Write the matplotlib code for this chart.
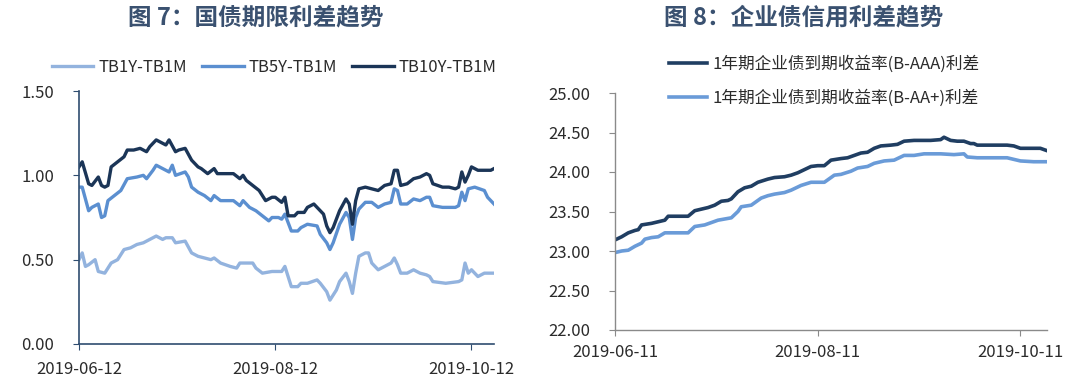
import matplotlib
matplotlib.use("Agg")
import matplotlib.pyplot as plt
import numpy as np
import pandas as pd

plt.rcParams['font.family'] = ['Noto Sans CJK SC', 'DejaVu Sans']

# ---------------- data: left chart (days since 2019-06-12) ----------------
left_start = "2019-06-12"
left_ticks = ["2019-06-12", "2019-08-12", "2019-10-12"]
left_yticks = [0.0, 0.5, 1.0, 1.5]

tb10_days = [0, 1, 3, 4, 6, 7, 8, 9, 10, 12, 14, 15, 17, 19, 21, 22, 24, 25, 27, 28, 30, 31, 33, 35,
             37, 38, 40, 42, 43, 46, 48, 50, 51, 52, 54, 56, 58, 60, 61, 63, 64, 65, 67, 68, 70, 71,
             73, 74, 76, 77, 78, 79, 81, 83, 84, 85, 86, 87, 89, 91, 93, 95, 97, 98, 99, 100, 102,
             104, 106, 108, 109, 110, 113, 115, 117, 118, 119, 120, 121, 122, 124, 126, 128, 129]
tb10_vals = [1.05, 1.08, 0.95, 0.94, 0.99, 0.94, 0.93, 0.94, 1.05, 1.08, 1.11, 1.15, 1.15, 1.16, 1.14,
             1.17, 1.21, 1.20, 1.18, 1.21, 1.14, 1.15, 1.16, 1.09, 1.05, 1.04, 1.01, 1.04, 1.01, 1.01,
             1.01, 0.98, 1.00, 0.97, 0.94, 0.91, 0.85, 0.87, 0.87, 0.84, 0.87, 0.76, 0.76, 0.78, 0.78,
             0.81, 0.83, 0.81, 0.77, 0.70, 0.66, 0.69, 0.79, 0.86, 0.83, 0.71, 0.85, 0.92, 0.93, 0.92,
             0.91, 0.94, 0.95, 1.03, 1.03, 0.94, 0.95, 0.98, 0.99, 1.01, 1.00, 0.95, 0.93, 0.93, 0.92,
             0.93, 1.02, 0.96, 1.00, 1.05, 1.03, 1.03, 1.03, 1.04]

tb5_days = [0, 1, 3, 4, 6, 7, 8, 9, 11, 13, 15, 18, 20, 21, 23, 24, 26, 28, 29, 30, 33, 34, 35, 37,
            39, 41, 42, 44, 48, 50, 51, 53, 55, 57, 59, 60, 62, 63, 64, 66, 68, 69, 71, 74, 75, 77,
            78, 79, 81, 83, 84, 85, 86, 87, 89, 91, 93, 95, 97, 98, 99, 100, 102, 104, 106, 108,
            109, 110, 113, 117, 118, 119, 120, 121, 123, 126, 127, 129]
tb5_vals = [0.93, 0.93, 0.79, 0.81, 0.83, 0.75, 0.76, 0.85, 0.88, 0.91, 0.98, 0.99, 1.00, 0.98, 1.03,
            1.06, 1.04, 1.02, 1.06, 1.00, 1.02, 0.99, 0.93, 0.90, 0.88, 0.85, 0.88, 0.85, 0.85, 0.82,
            0.85, 0.81, 0.79, 0.76, 0.73, 0.75, 0.75, 0.74, 0.77, 0.67, 0.67, 0.69, 0.71, 0.70, 0.65,
            0.60, 0.56, 0.60, 0.71, 0.78, 0.75, 0.62, 0.75, 0.80, 0.84, 0.84, 0.81, 0.83, 0.84, 0.92,
            0.91, 0.83, 0.83, 0.86, 0.85, 0.87, 0.87, 0.82, 0.81, 0.81, 0.82, 0.90, 0.85, 0.92, 0.93,
            0.91, 0.87, 0.83]

tb1_days = [0, 1, 2, 3, 5, 6, 8, 10, 12, 14, 16, 18, 20, 22, 24, 26, 27, 29, 30, 33, 35, 37, 39, 41,
            42, 44, 47, 49, 50, 54, 55, 57, 60, 62, 63, 64, 66, 68, 69, 71, 74, 75, 77, 78, 80, 81,
            83, 84, 85, 86, 87, 89, 90, 91, 93, 95, 97, 98, 99, 100, 102, 104, 106, 108, 109, 110,
            114, 118, 119, 120, 121, 122, 124, 126, 129]
tb1_vals = [0.50, 0.54, 0.46, 0.47, 0.50, 0.43, 0.42, 0.48, 0.50, 0.56, 0.57, 0.59, 0.60, 0.62, 0.64,
            0.62, 0.63, 0.63, 0.60, 0.61, 0.54, 0.52, 0.51, 0.50, 0.51, 0.48, 0.46, 0.45, 0.48, 0.48,
            0.45, 0.42, 0.43, 0.43, 0.43, 0.46, 0.34, 0.34, 0.36, 0.36, 0.38, 0.36, 0.31, 0.26, 0.32,
            0.37, 0.42, 0.37, 0.30, 0.42, 0.52, 0.54, 0.54, 0.48, 0.44, 0.46, 0.48, 0.51, 0.47, 0.42,
            0.42, 0.44, 0.42, 0.41, 0.40, 0.37, 0.36, 0.37, 0.38, 0.48, 0.42, 0.44, 0.40, 0.42, 0.42]

left_labels = ["TB1Y-TB1M", "TB5Y-TB1M", "TB10Y-TB1M"]

# ---------------- data: right chart (days since 2019-06-11) ----------------
right_start = "2019-06-11"
right_ticks = ["2019-06-11", "2019-08-11", "2019-10-11"]
right_yticks = [22.0, 22.5, 23.0, 23.5, 24.0, 24.5, 25.0]

aaa_days = [0, 2, 4, 6, 7, 8, 11, 13, 15, 16, 19, 22, 24, 26, 28, 30, 32, 34, 35, 37, 39, 41, 43, 46,
            48, 51, 53, 55, 57, 59, 61, 63, 65, 68, 70, 72, 74, 76, 78, 80, 83, 85, 87, 90, 93, 95,
            98, 99, 101, 103, 105, 107, 108, 109, 113, 118, 120, 122, 124, 128, 130]
aaa_vals = [23.14, 23.18, 23.23, 23.26, 23.27, 23.33, 23.35, 23.37, 23.39, 23.44, 23.44, 23.44, 23.51,
            23.53, 23.55, 23.58, 23.63, 23.64, 23.66, 23.75, 23.80, 23.82, 23.87, 23.91, 23.93, 23.94,
            23.96, 23.99, 24.03, 24.07, 24.08, 24.08, 24.15, 24.17, 24.18, 24.21, 24.24, 24.25, 24.30,
            24.33, 24.34, 24.35, 24.39, 24.40, 24.40, 24.40, 24.41, 24.44, 24.40, 24.39, 24.39, 24.36,
            24.36, 24.34, 24.34, 24.34, 24.33, 24.30, 24.30, 24.30, 24.27]

aap_days = [0, 2, 4, 6, 8, 9, 11, 13, 15, 18, 22, 24, 27, 29, 31, 35, 37, 38, 41, 44, 46, 48, 51, 53,
            56, 59, 63, 66, 68, 71, 73, 76, 78, 81, 84, 87, 90, 93, 98, 102, 105, 106, 109, 113, 118,
            122, 126, 130]
aap_vals = [22.98, 23.00, 23.01, 23.06, 23.10, 23.15, 23.17, 23.18, 23.23, 23.23, 23.23, 23.31, 23.33,
            23.36, 23.39, 23.42, 23.50, 23.56, 23.58, 23.67, 23.70, 23.72, 23.74, 23.77, 23.83, 23.87,
            23.87, 23.96, 23.97, 24.01, 24.05, 24.07, 24.11, 24.14, 24.15, 24.21, 24.21, 24.23, 24.23,
            24.22, 24.23, 24.19, 24.18, 24.18, 24.18, 24.14, 24.13, 24.13]

right_labels = ["1年期企业债到期收益率(B-AAA)利差", "1年期企业债到期收益率(B-AA+)利差"]

# ---------------- styling ----------------
c_dark = "#1b3557"
c_mid = "#5b8fd0"
c_light = "#93b3de"
c_r_dark = "#203e62"
c_r_light = "#6a9bd8"
title_color = "#3a5170"
text_color = "#2b2b2b"


def to_dates(start, days):
    return pd.Timestamp(start) + pd.to_timedelta(np.array(days), unit="D")


fig = plt.figure(figsize=(10.8, 3.78), dpi=100)

# ---------- left chart ----------
axL = fig.add_axes([79 / 1080, 1 - 344 / 378, (494 - 79) / 1080, (344 - 91) / 378])
lw = 2.4
axL.plot(to_dates(left_start, tb1_days), tb1_vals, color=c_light, lw=lw, label=left_labels[0])
axL.plot(to_dates(left_start, tb5_days), tb5_vals, color=c_mid, lw=lw, label=left_labels[1])
axL.plot(to_dates(left_start, tb10_days), tb10_vals, color=c_dark, lw=lw, label=left_labels[2])
axL.set_ylim(0, 1.5)
axL.set_yticks(left_yticks)
axL.set_yticklabels([f"{v:.2f}" for v in left_yticks])
axL.set_xlim(pd.Timestamp(left_start), pd.Timestamp(left_start) + pd.Timedelta(days=129))
axL.set_xticks([pd.Timestamp(t) for t in left_ticks])
axL.set_xticklabels(left_ticks)
for s in ["top", "right"]:
    axL.spines[s].set_visible(False)
for s in ["left", "bottom"]:
    axL.spines[s].set_color("#2f4d70")
    axL.spines[s].set_linewidth(1.2)
axL.tick_params(axis="both", colors="#2f4d70", labelcolor=text_color, labelsize=12, length=4)
axL.tick_params(axis="x", pad=8)
axL.tick_params(axis="y", pad=14)
leg = axL.legend(loc="lower center", bbox_to_anchor=(0.47, 1.0), ncol=3, frameon=False,
                 fontsize=12, handlelength=2.5, columnspacing=0.9, handletextpad=0.3,
                 borderaxespad=0.5)
for t in leg.get_texts():
    t.set_color(text_color)

fig.text(256 / 1080, 1 - 17 / 378, "图 7：国债期限利差趋势", ha="center", va="center",
         fontsize=17, fontweight="bold", color=title_color)

# ---------- right chart ----------
axR = fig.add_axes([615 / 1080, 1 - 330 / 378, (1047 - 615) / 1080, (330 - 93) / 378])
axR.plot(to_dates(right_start, aaa_days), aaa_vals, color=c_r_dark, lw=2.6, label=right_labels[0])
axR.plot(to_dates(right_start, aap_days), aap_vals, color=c_r_light, lw=2.6, label=right_labels[1])
axR.set_ylim(22, 25)
axR.set_yticks(right_yticks)
axR.set_yticklabels([f"{v:.2f}" for v in right_yticks])
axR.set_xlim(pd.Timestamp(right_start), pd.Timestamp(right_start) + pd.Timedelta(days=130))
axR.set_xticks([pd.Timestamp(t) for t in right_ticks])
axR.set_xticklabels(right_ticks)
for s in ["top", "right"]:
    axR.spines[s].set_visible(False)
for s in ["left", "bottom"]:
    axR.spines[s].set_color("#8a8a8a")
    axR.spines[s].set_linewidth(1.0)
axR.tick_params(axis="both", colors="#8a8a8a", labelcolor=text_color, labelsize=12, length=4)
axR.tick_params(axis="x", pad=6)
axR.tick_params(axis="y", pad=14)
legR = axR.legend(loc="upper left", bbox_to_anchor=(0.09, 1.22), ncol=1, frameon=False,
                  fontsize=12, handlelength=2.3, handletextpad=0.3, labelspacing=0.95)
for t in legR.get_texts():
    t.set_color(text_color)

fig.text(804 / 1080, 1 - 17 / 378, "图 8：企业债信用利差趋势", ha="center", va="center",
         fontsize=17, fontweight="bold", color=title_color)

fig.savefig("out.png", dpi=100, facecolor="white")
